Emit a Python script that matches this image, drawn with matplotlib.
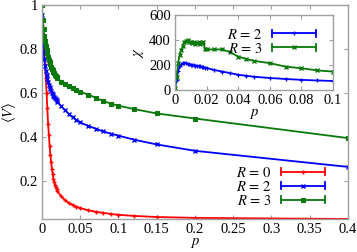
import numpy as np
import matplotlib
matplotlib.use('Agg')
import matplotlib.pyplot as plt
from matplotlib.legend_handler import HandlerBase
from matplotlib.lines import Line2D

plt.rcParams['font.family'] = ['Liberation Serif', 'DejaVu Serif']
plt.rcParams['mathtext.fontset'] = 'stix'
plt.rcParams['font.size'] = 10.5

# main panel: <V> vs p
p_main = [0, 0.001, 0.002, 0.003, 0.004, 0.005, 0.006, 0.007, 0.008, 0.009, 0.010,
          0.011, 0.012, 0.013, 0.014, 0.015, 0.016, 0.017, 0.018, 0.019, 0.020,
          0.025, 0.03, 0.035, 0.04, 0.045, 0.05, 0.06, 0.07, 0.08, 0.09, 0.1,
          0.12, 0.15, 0.2, 0.4]
v_r0 = [0.91, 0.87, 0.83, 0.78, 0.73, 0.67, 0.60, 0.53, 0.46, 0.41, 0.36,
        0.32, 0.285, 0.255, 0.23, 0.21, 0.195, 0.182, 0.172, 0.163, 0.155,
        0.13, 0.113, 0.1, 0.091, 0.083, 0.077, 0.067, 0.06, 0.055, 0.05, 0.046,
        0.041, 0.036, 0.032, 0.027]
v_r2 = [0.955, 0.85, 0.79, 0.755, 0.725, 0.70, 0.68, 0.665, 0.65, 0.637, 0.627,
        0.618, 0.61, 0.602, 0.595, 0.588, 0.582, 0.576, 0.571, 0.566, 0.561,
        0.54, 0.522, 0.505, 0.49, 0.477, 0.466, 0.451, 0.438, 0.425, 0.415, 0.406,
        0.388, 0.366, 0.337, 0.264]
v_r3 = [1.0, 0.93, 0.89, 0.86, 0.835, 0.815, 0.797, 0.78, 0.765, 0.752, 0.74,
        0.73, 0.72, 0.711, 0.703, 0.696, 0.689, 0.683, 0.677, 0.672, 0.667,
        0.652, 0.641, 0.63, 0.622, 0.613, 0.606, 0.593, 0.579, 0.563, 0.552, 0.542,
        0.527, 0.507, 0.484, 0.395]

# inset: chi vs p
p_ins = p_main[:32]
chi_r2 = [0, 80, 150, 190, 208, 215, 218, 215, 210, 207, 203,
          200, 198, 196, 194, 192, 190, 187, 184, 180, 176,
          160, 147, 135, 122, 114, 106, 96, 88, 81, 76, 72]
chi_r3 = [15, 100, 215, 280, 320, 355, 385, 395, 398, 385, 382,
          380, 388, 372, 380, 385, 372, 380, 382, 330, 325,
          325, 325, 302, 268, 248, 233, 215, 187, 174, 157, 147]

red, blue, green = '#ff0000', '#0000ff', '#0a780a'
grey = '#a0a0a0'


class CapHandler(HandlerBase):
    # gnuplot-like key sample: line with end caps and marker in middle
    def create_artists(self, legend, orig, xd, yd, w, h, fontsize, trans):
        y = h / 2 - yd
        x0, x1 = -xd, -xd + w
        c = orig.get_color()
        lw = orig.get_linewidth()
        art = [Line2D([x0, x1], [y, y], color=c, lw=lw),
               Line2D([x0, x0], [y - 2.5, y + 2.5], color=c, lw=lw),
               Line2D([x1, x1], [y - 2.5, y + 2.5], color=c, lw=lw),
               Line2D([(x0 + x1) / 2], [y], color=c, marker=orig.get_marker(),
                      ms=orig.get_markersize(), mew=orig.get_markeredgewidth())]
        for a in art:
            a.set_transform(trans)
        return art


def style(ax):
    for s in ax.spines.values():
        s.set_color(grey)
        s.set_linewidth(1.0)
    ax.tick_params(direction='in', top=True, right=True, color=grey,
                   length=3, pad=3, labelsize=10.5)


fig = plt.figure(figsize=(3.57, 2.52), dpi=100)
ax = fig.add_axes([0.1176, 0.131, 0.857, 0.849])
kw = dict(lw=1.3, ms=3.5, mew=1.0)
l0, = ax.plot(p_main, v_r0, color=red, marker='+', label=r'$R\,=\,0$', **kw)
l2, = ax.plot(p_main, v_r2, color=blue, marker='x', label=r'$R\,=\,2$', **kw)
l3, = ax.plot(p_main, v_r3, color=green, marker='s', label=r'$R\,=\,3$',
              lw=1.3, ms=2.5, mew=0.8)
ax.set_xlim(0, 0.4)
ax.set_ylim(0.027, 1)
ax.set_xticks([0, 0.05, 0.1, 0.15, 0.2, 0.25, 0.3, 0.35, 0.4])
ax.set_xticklabels(['0', '0.05', '0.1', '0.15', '0.2', '0.25', '0.3', '0.35', '0.4'])
ax.set_yticks([0.2, 0.4, 0.6, 0.8, 1])
ax.set_yticklabels(['0.2', '0.4', '0.6', '0.8', '1'])
ax.set_xlabel(r'$p$', labelpad=0)
ax.set_ylabel(r'$\langle V\rangle$', labelpad=1)
style(ax)
ax.legend(handles=[l0, l2, l3], handler_map={Line2D: CapHandler()},
          loc='lower right', bbox_to_anchor=(0.96, 0.0), frameon=False,
          markerfirst=False, handlelength=3.0, handletextpad=0.6,
          labelspacing=0.0, borderpad=0.25)

ins = fig.add_axes([0.490, 0.643, 0.443, 0.297])
i2, = ins.plot(p_ins, chi_r2, color=blue, marker='+', label=r'$R\,=\,2$',
               lw=1.3, ms=3, mew=0.9)
i3, = ins.plot(p_ins, chi_r3, color=green, marker='x', label=r'$R\,=\,3$',
               lw=1.3, ms=3, mew=1.0)
ins.set_xlim(0, 0.1)
ins.set_ylim(0, 600)
ins.set_xticks([0, 0.02, 0.04, 0.06, 0.08, 0.1])
ins.set_xticklabels(['0', '0.02', '0.04', '0.06', '0.08', '0.1'])
ins.set_yticks([0, 200, 400, 600])
ins.set_xlabel(r'$p$', labelpad=0)
ins.set_ylabel(r'$\chi$', labelpad=2)
style(ins)
ins.legend(handles=[i2, i3], handler_map={Line2D: CapHandler()},
           loc='upper right', bbox_to_anchor=(0.96, 0.98), frameon=False,
           markerfirst=False, handlelength=3.0, handletextpad=0.6,
           labelspacing=0.0, borderpad=0.25)

fig.savefig('out.png', dpi=100)
